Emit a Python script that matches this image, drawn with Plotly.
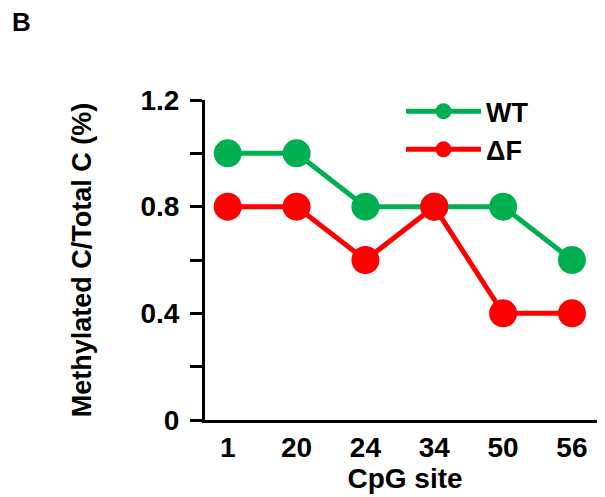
import plotly.graph_objects as go

sites = ["1", "20", "24", "34", "50", "56"]
wt = [1.0, 1.0, 0.8, 0.8, 0.8, 0.6]
df = [0.8, 0.8, 0.6, 0.8, 0.4, 0.4]
ytick_vals = [0, 0.2, 0.4, 0.6, 0.8, 1.0, 1.2]
ytick_text = ["0", "", "0.4", "", "0.8", "", "1.2"]

FONT = "Liberation Sans, Arial, sans-serif"

fig = go.Figure()
fig.add_trace(go.Scatter(x=sites, y=wt, mode="lines+markers", name="<b>WT</b>",
                         line=dict(color="#00B050", width=5),
                         marker=dict(color="#00B050", size=28)))
fig.add_trace(go.Scatter(x=sites, y=df, mode="lines+markers", name="<b>ΔF</b>",
                         line=dict(color="#FF0000", width=5),
                         marker=dict(color="#FF0000", size=28)))

fig.update_layout(
    width=597, height=489,
    margin=dict(l=197, r=0, t=92, b=77, autoexpand=False),
    paper_bgcolor="white", plot_bgcolor="white",
    font=dict(family=FONT, size=27, color="black"),
    showlegend=True,
    legend=dict(x=0.49, y=1.04, xanchor="left", yanchor="top",
                bgcolor="rgba(0,0,0,0)", itemwidth=75,
                font=dict(size=27, family=FONT), tracegroupgap=0),
)
fig.add_annotation(text="<b>B</b>", xref="paper", yref="paper",
                   x=-0.46, y=1.244, xanchor="center", yanchor="middle",
                   showarrow=False, font=dict(size=26, family=FONT))

fig.update_xaxes(type="category", range=[-0.33, 5.48], showline=True,
                 linecolor="black", linewidth=3, ticks="", showgrid=False,
                 zeroline=False, tickfont=dict(size=28, family=FONT),
                 title=dict(text="<b>CpG site</b>", font=dict(size=28, family=FONT), standoff=0),
                 tickprefix="<b>", ticksuffix="</b>", automargin=False)
fig.update_yaxes(range=[0, 1.2], showline=True, linecolor="black", linewidth=3,
                 ticks="outside", ticklen=12, tickwidth=3, tickcolor="black",
                 tickvals=ytick_vals, ticktext=["<b>%s</b>" % t if t else "" for t in ytick_text],
                 ticklabelstandoff=5,
                 showgrid=False, zeroline=False, tickfont=dict(size=28, family=FONT),
                 title=dict(text="<b>Methylated C/Total C (%)</b>", font=dict(size=27, family=FONT), standoff=42),
                 automargin=False)

fig.write_html("out.html")
